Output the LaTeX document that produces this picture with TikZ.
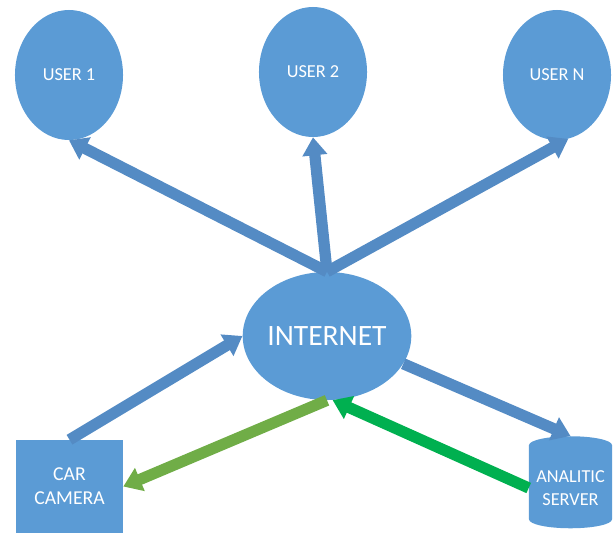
\documentclass[tikz,border=0pt]{standalone}
\usepackage{fontspec}
\setmainfont{Carlito}
\usetikzlibrary{arrows.meta,shapes.geometric}
\definecolor{nodeblue}{HTML}{5B9BD5}
\definecolor{arrowblue}{HTML}{548BC4}
\definecolor{lightgreen}{HTML}{70AD47}
\definecolor{darkgreen}{HTML}{00B050}
\tikzset{
	user/.style={ellipse, fill=nodeblue, text=white, minimum width=2.7cm, minimum height=3.25cm, font=\fontsize{13}{15}\selectfont},
	link/.style={line width=8pt, -{Triangle[width=6mm,length=4.5mm]}},
}
\begin{document}
\begin{tikzpicture}[x=0.025cm, y=-0.025cm, line join=round]
	\useasboundingbox (0,0) rectangle (613,535);
	% clients
	\node[user] (user1) at (69,75) {USER 1};
	\node[user] (user2) at (313,72) {USER 2};
	\node[user] (userN) at (557,75) {USER N};
	\node[ellipse, fill=nodeblue, text=white, inner sep=0pt, minimum width=4.125cm, minimum height=3.2cm, font=\fontsize{21}{24}\selectfont] (internet) at (327,336) {INTERNET};
	\node[rectangle, fill=nodeblue, text=white, minimum width=2.675cm, minimum height=2.325cm, align=center, font=\fontsize{14}{17}\selectfont] (camera) at (69.5,486.5) {CAR\\CAMERA};
	\node[cylinder, shape border rotate=90, aspect=0.25, fill=nodeblue, text=white, minimum width=2.075cm, minimum height=2.3cm, align=center, inner sep=1pt, font=\fontsize{13}{16}\selectfont] (server) at (570.5,488) {ANALITIC\\SERVER};
	% links
	\draw[link, arrowblue] (internet.north) -- (user1.south);
	\draw[link, arrowblue] (internet.north) -- (user2.south);
	\draw[link, arrowblue] (internet.north) -- (userN.-80);
	\draw[link, arrowblue] (camera.north) -- (internet.west);
	\draw[link, arrowblue] (internet.-20) -- (server.north);
	\draw[link, lightgreen] (internet.south) -- (camera.east);
	\draw[link, darkgreen] (server.west) -- (internet.-85);
\end{tikzpicture}
\end{document}
